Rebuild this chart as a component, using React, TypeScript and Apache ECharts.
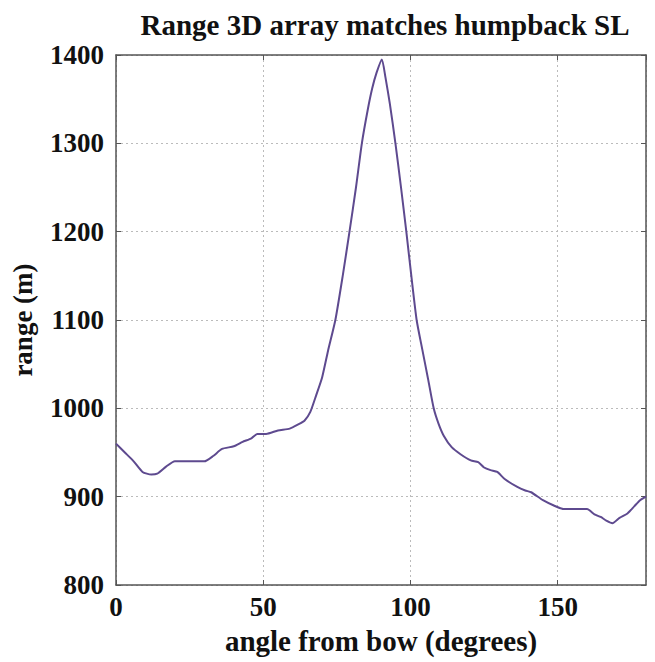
import React, { useEffect, useRef } from "react";
import * as echarts from "echarts";

const angles = [0, 3, 6, 9, 12, 14, 17, 20, 25, 30, 33, 36, 40, 43, 46, 48, 51, 55, 59, 62, 64, 66, 68, 70, 72, 74.5, 77, 79.3, 81.5, 83.5, 85.5, 87, 88.5, 90.3, 91.5, 93, 94.9, 96.8, 98.6, 100.4, 102.1, 104, 106, 107.9, 109.5, 111.3, 114, 117, 120.5, 123, 125, 127.2, 129.5, 132, 136.3, 139, 141, 145, 148.7, 152, 156, 160, 162.5, 164.6, 166.5, 168.6, 171, 173.7, 176, 178, 180];
const ranges = [960, 950, 940, 928, 925, 926, 934, 940, 940, 940, 946, 954, 957, 962, 966, 971, 971, 975, 977, 982, 986, 996, 1015, 1035, 1065, 1100, 1150, 1200, 1250, 1300, 1338, 1362, 1380, 1395, 1375, 1345, 1300, 1250, 1200, 1147, 1100, 1067, 1033, 1000, 983, 969, 956, 948, 941, 939, 933, 930, 928, 920, 911, 907, 905, 896, 890, 886, 886, 886, 880, 877, 873, 870, 876, 881, 889, 896, 900];

const xTicks = [0, 50, 100, 150];
const yTicks = [800, 900, 1000, 1100, 1200, 1300, 1400];

const FONT = "Liberation Serif";

export default function App() {
  const ref = useRef<HTMLDivElement>(null);
  useEffect(() => {
    if (!ref.current) return;
    const chart = echarts.init(ref.current, undefined, { renderer: "svg" });
    const data = angles.map((a, i) => [a, ranges[i]]);
    const gridLine = { show: true, lineStyle: { color: "#bbbbbb", type: [2, 3] as any, width: 1 } };
    chart.setOption({
      animation: false,
      backgroundColor: "#ffffff",
      title: {
        text: "Range 3D array matches humpback SL",
        left: 380,
        top: 5,
        textAlign: "center",
        textStyle: { fontFamily: FONT, fontWeight: "bold", fontSize: 29, color: "#111" },
      },
      grid: { left: 116, right: 9, top: 55, bottom: 77, containLabel: false },
      xAxis: [
        {
          type: "value",
          min: 0,
          max: 180,
          interval: 50,
          name: "angle from bow (degrees)",
          nameLocation: "middle",
          nameGap: 41,
          nameTextStyle: { fontFamily: FONT, fontWeight: "bold", fontSize: 29, color: "#111" },
          axisLine: { show: true, onZero: false, lineStyle: { color: "#555", width: 1.5 } },
          axisTick: { show: true, inside: true, length: 5, lineStyle: { color: "#555" } },
          axisLabel: {
            fontFamily: FONT, fontWeight: "bold", fontSize: 27, color: "#111", margin: 8,
            formatter: (v: number) => (xTicks.includes(v) ? String(v) : ""),
            showMaxLabel: false,
          },
          splitLine: gridLine,
        },
        {
          type: "value",
          position: "top",
          min: 0,
          max: 180,
          interval: 50,
          axisLine: { show: true, onZero: false, lineStyle: { color: "#555", width: 1.5 } },
          axisTick: { show: true, inside: true, length: 5, lineStyle: { color: "#555" } },
          axisLabel: { show: false },
          splitLine: { show: false },
        },
      ],
      yAxis: [
        {
          type: "value",
          min: 800,
          max: 1400,
          interval: 100,
          name: "range (m)",
          nameLocation: "middle",
          nameGap: 80,
          nameTextStyle: { fontFamily: FONT, fontWeight: "bold", fontSize: 27, color: "#111" },
          axisLine: { show: true, onZero: false, lineStyle: { color: "#555", width: 1.5 } },
          axisTick: { show: true, inside: true, length: 5, lineStyle: { color: "#555" } },
          axisLabel: {
            fontFamily: FONT, fontWeight: "bold", fontSize: 27, color: "#111", margin: 12,
            formatter: (v: number) => (yTicks.includes(v) ? String(v) : ""),
          },
          splitLine: gridLine,
        },
        {
          type: "value",
          position: "right",
          min: 800,
          max: 1400,
          interval: 100,
          axisLine: { show: true, onZero: false, lineStyle: { color: "#555", width: 1.5 } },
          axisTick: { show: true, inside: true, length: 5, lineStyle: { color: "#555" } },
          axisLabel: { show: false },
          splitLine: { show: false },
        },
      ],
      series: [
        {
          type: "line",
          data,
          showSymbol: false,
          smooth: 0.2,
          lineStyle: { color: "#5e4a8f", width: 2 },
          xAxisIndex: 0,
          yAxisIndex: 0,
        },
      ],
    });
    return () => chart.dispose();
  }, []);
  return (
    <div
      ref={ref}
      style={{ position: "absolute", left: 0, top: 0, width: 655, height: 662 }}
    />
  );
}
